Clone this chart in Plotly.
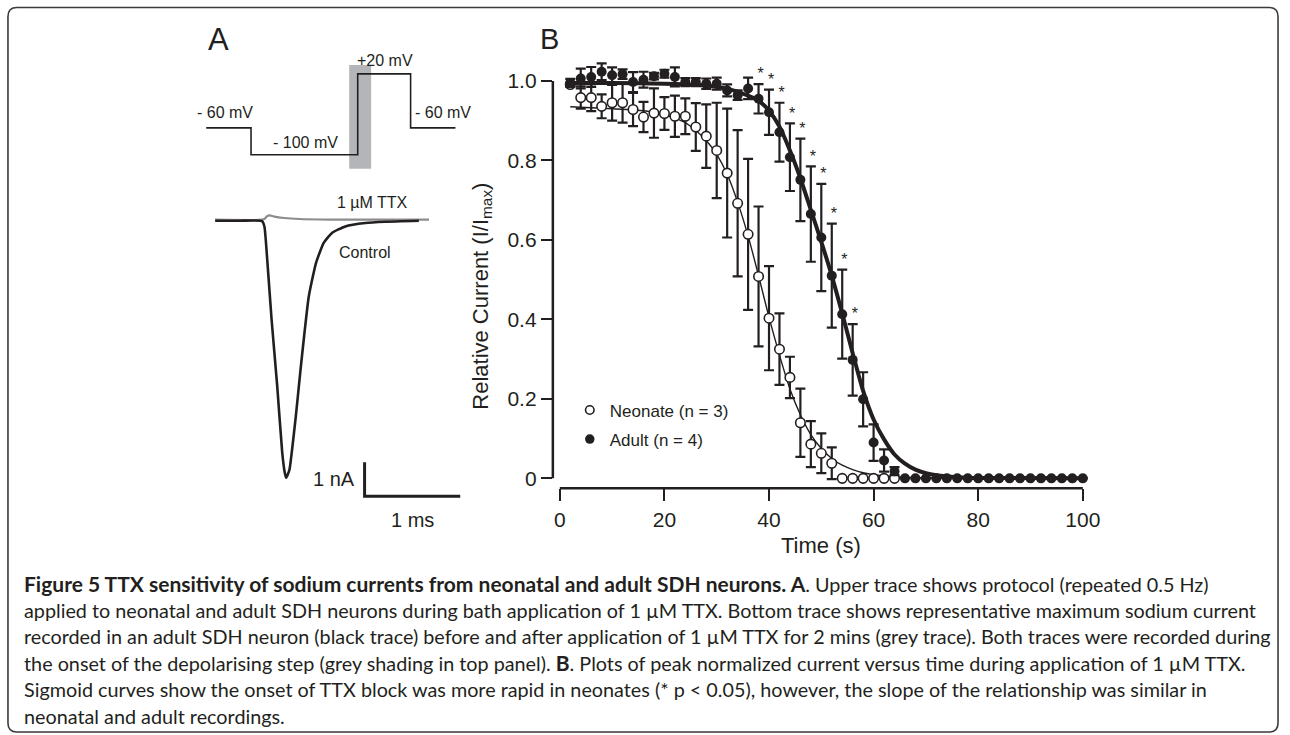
import plotly.graph_objects as go

W, H = 1290, 735

# ---------------- Panel B data (time in s, relative current) ----------------
t_neonate = [2, 4, 6, 8, 10, 12, 14, 16, 18, 20, 22, 24, 26, 28, 30, 32, 34, 36,
             38, 40, 42, 44, 46, 48, 50, 52, 54, 56, 58, 60, 62, 64]
neonate_mean = [0.991, 0.958, 0.958, 0.936, 0.945, 0.945, 0.928, 0.909, 0.919, 0.918,
                0.911, 0.911, 0.884, 0.861, 0.825, 0.768, 0.692, 0.614, 0.508, 0.403,
                0.325, 0.254, 0.140, 0.086, 0.063, 0.038, 0.0, 0.0, 0.0, 0.0, 0.0, 0.0]
neonate_sem = [0.0, 0.028, 0.034, 0.030, 0.045, 0.050, 0.042, 0.038, 0.062, 0.041,
               0.052, 0.045, 0.060, 0.080, 0.120, 0.162, 0.184, 0.190, 0.176, 0.131,
               0.090, 0.052, 0.086, 0.058, 0.050, 0.040, 0.0, 0.0, 0.0, 0.0, 0.0, 0.0]

t_adult = [2, 4, 6, 8, 10, 12, 14, 16, 18, 20, 22, 24, 26, 28, 30, 32, 34, 36, 38, 40,
           42, 44, 46, 48, 50, 52, 54, 56, 58, 60, 62, 64, 66, 68, 70, 72, 74, 76, 78, 80,
           82, 84, 86, 88, 90, 92, 94, 96, 98, 100]
adult_mean = [0.995, 1.006, 1.010, 1.023, 1.014, 1.017, 0.997, 1.003, 1.012, 1.018,
              1.010, 0.997, 0.997, 0.993, 0.993, 0.976, 0.964, 0.981, 0.955, 0.921,
              0.871, 0.808, 0.751, 0.665, 0.606, 0.510, 0.413, 0.298, 0.199, 0.090,
              0.045, 0.018, 0.0, 0.0, 0.0, 0.0, 0.0, 0.0, 0.0, 0.0,
              0.0, 0.0, 0.0, 0.0, 0.0, 0.0, 0.0, 0.0, 0.0, 0.0]
adult_sem = [0.010, 0.025, 0.025, 0.021, 0.020, 0.012, 0.025, 0.020, 0.008, 0.010,
             0.024, 0.010, 0.010, 0.013, 0.015, 0.015, 0.012, 0.027, 0.037, 0.057,
             0.074, 0.085, 0.104, 0.120, 0.135, 0.131, 0.112, 0.090, 0.068, 0.046,
             0.028, 0.010, 0.0, 0.0, 0.0, 0.0, 0.0, 0.0, 0.0, 0.0,
             0.0, 0.0, 0.0, 0.0, 0.0, 0.0, 0.0, 0.0, 0.0, 0.0]

# sigmoid fits
neonate_fit_t = [2, 10, 16, 20, 24, 26, 28, 30, 32, 34, 36, 38, 40, 42, 44, 46, 48, 50,
                 52, 54, 56, 58, 60, 64, 70, 100]
neonate_fit_y = [0.935, 0.930, 0.925, 0.915, 0.895, 0.875, 0.850, 0.815, 0.765, 0.695,
                 0.610, 0.510, 0.405, 0.310, 0.225, 0.160, 0.110, 0.075, 0.050, 0.033,
                 0.022, 0.014, 0.009, 0.004, 0.001, 0.0]
adult_fit_t = [2, 10, 20, 26, 30, 34, 38, 40, 42, 44, 46, 48, 50, 52, 54, 56, 58, 60,
               62, 64, 66, 68, 70, 72, 76, 80, 100]
adult_fit_y = [0.995, 0.995, 0.993, 0.990, 0.985, 0.973, 0.950, 0.925, 0.885, 0.825,
               0.755, 0.675, 0.595, 0.510, 0.415, 0.315, 0.220, 0.148, 0.098, 0.060,
               0.037, 0.022, 0.013, 0.008, 0.003, 0.001, 0.0]

# time points with significant difference (*)
star_t = [38, 40, 42, 44, 46, 48, 50, 52, 54, 56]

x_ticks = [0, 20, 40, 60, 80, 100]
y_ticks = [0, 0.2, 0.4, 0.6, 0.8, 1.0]
y_tick_text = ["0", "0.2", "0.4", "0.6", "0.8", "1.0"]

# ---------------- Panel A data ----------------
# voltage protocol (schematic, ms / mV)
protocol_t = [0, 100, 100, 338, 338, 456, 456, 556]
protocol_mv = [-60, -60, -100, -100, 20, 20, -60, -60]
shade_t = [319, 368]
shade_mv = [-120.7, 33.3]

# current traces (ms, nA)
control_t = [0.00, 0.25, 0.49, 0.515, 0.545, 0.59, 0.649, 0.701, 0.728, 0.743, 0.76,
             0.778, 0.84, 0.893, 0.9375, 0.979, 1.055, 1.135, 1.222, 1.361, 1.57, 1.778, 2.13]
control_na = [-0.03, -0.03, -0.04, -0.20, -1.20, -2.94, -4.90, -6.85, -7.45, -7.60, -7.50,
              -7.35, -5.88, -4.41, -3.24, -2.26, -1.27, -0.685, -0.39, -0.197, -0.097, -0.06, -0.03]
ttx_t = [0.0, 0.49, 0.52, 0.54, 0.57, 0.62, 0.72, 0.88, 1.2, 2.236]
ttx_na = [0.0, 0.0, 0.03, 0.10, 0.13, 0.09, 0.05, 0.02, 0.005, 0.0]

scalebar_origin = (1.5625, -8.147)
scalebar_ms = 1.0
scalebar_na = 1.0

INK = "#231f20"
FONT = "Liberation Sans, Arial, Helvetica, sans-serif"


def px(x):
    return x / W


def py(y):
    return 1 - y / H


fig = go.Figure()

# ---- Panel A: protocol
fig.add_trace(go.Scatter(x=protocol_t, y=protocol_mv, mode="lines",
                         line=dict(color=INK, width=1.6), xaxis="x2", yaxis="y2",
                         showlegend=False, hoverinfo="skip"))

# ---- Panel A: currents
fig.add_trace(go.Scatter(x=ttx_t, y=ttx_na, mode="lines",
                         line=dict(color="#8c8c8c", width=2.2, shape="spline", smoothing=0.6),
                         xaxis="x3", yaxis="y3", showlegend=False, hoverinfo="skip"))
fig.add_trace(go.Scatter(x=control_t, y=control_na, mode="lines",
                         line=dict(color=INK, width=2.6, shape="spline", smoothing=0.5),
                         xaxis="x3", yaxis="y3", showlegend=False, hoverinfo="skip"))
sx, sy = scalebar_origin
fig.add_trace(go.Scatter(x=[sx, sx, sx + scalebar_ms], y=[sy + scalebar_na, sy, sy],
                         mode="lines", line=dict(color=INK, width=3),
                         xaxis="x3", yaxis="y3", showlegend=False, hoverinfo="skip"))

# ---- Panel B
fig.add_trace(go.Scatter(x=adult_fit_t, y=adult_fit_y, mode="lines",
                         line=dict(color=INK, width=4, shape="spline", smoothing=0.6),
                         showlegend=False, hoverinfo="skip"))
fig.add_trace(go.Scatter(x=neonate_fit_t, y=neonate_fit_y, mode="lines",
                         line=dict(color=INK, width=1.4, shape="spline", smoothing=0.6),
                         showlegend=False, hoverinfo="skip"))
fig.add_trace(go.Scatter(x=t_neonate, y=neonate_mean, mode="markers",
                         marker=dict(size=9.5, color="white", line=dict(color=INK, width=1.6)),
                         error_y=dict(type="data", array=neonate_sem, visible=True,
                                      color=INK, thickness=2.2, width=5),
                         showlegend=False))
fig.add_trace(go.Scatter(x=t_adult, y=adult_mean, mode="markers",
                         marker=dict(size=10, color=INK),
                         error_y=dict(type="data", array=adult_sem, visible=True,
                                      color=INK, thickness=2.2, width=5),
                         showlegend=False))

idx = [t_adult.index(t) for t in star_t]
star_y = [adult_mean[i] + adult_sem[i] + 0.022 for i in idx]
fig.add_trace(go.Scatter(x=[t + 0.4 for t in star_t], y=star_y, mode="text",
                         text=["*"] * len(star_t),
                         textfont=dict(family=FONT, size=16, color=INK),
                         showlegend=False, hoverinfo="skip"))

# legend entries
fig.add_trace(go.Scatter(x=[None], y=[None], mode="markers", name="Neonate (n = 3)",
                         legendgroup="n",
                         marker=dict(size=8.5, color="white", line=dict(color=INK, width=1.6))))
fig.add_trace(go.Scatter(x=[None], y=[None], mode="markers", name="Adult (n = 4)",
                         legendgroup="a", marker=dict(size=9.5, color=INK)))

shapes = [
    # grey shading on protocol
    dict(type="rect", xref="x2", yref="y2", x0=shade_t[0], x1=shade_t[1],
         y0=shade_mv[0], y1=shade_mv[1], fillcolor="#b4b5b8", line=dict(width=0),
         layer="below"),
    # panel B axis lines
    dict(type="line", xref="x", yref="y domain", x0=0, x1=100, y0=0, y1=0,
         line=dict(color=INK, width=2.5)),
    dict(type="line", xref="x domain", yref="y", x0=0, x1=0, y0=0, y1=1,
         line=dict(color=INK, width=2.5)),
]

# rounded border
x0b, x1b, ytb, ybb = px(8), px(1283), py(7.5), py(733)
rx, ry = 9 / W, 9 / H
path = (f"M {x0b},{ybb + ry} L {x0b},{ytb - ry} Q {x0b},{ytb} {x0b + rx},{ytb} "
        f"L {x1b - rx},{ytb} Q {x1b},{ytb} {x1b},{ytb - ry} L {x1b},{ybb + ry} "
        f"Q {x1b},{ybb} {x1b - rx},{ybb} L {x0b + rx},{ybb} Q {x0b},{ybb} {x0b},{ybb + ry} Z")
shapes.append(dict(type="path", xref="paper", yref="paper", path=path,
                   line=dict(color="#3a3a3a", width=1.6)))

ann = []


def txt(x, y, s, size=16, xanchor="center", family=FONT, angle=0, color=INK):
    ann.append(dict(x=px(x), y=py(y), xref="paper", yref="paper", text=s, showarrow=False,
                    xanchor=xanchor, yanchor="middle", textangle=angle,
                    font=dict(family=family, size=size, color=color)))


txt(219, 40, "A", 31)
txt(552, 39, "B", 29)
txt(226, 113, "- 60 mV", 16)
txt(307, 143, "- 100 mV", 16)
txt(386, 61, "+20 mV", 16)
txt(445, 113, "- 60 mV", 16)
txt(374, 203, "1 µM TTX", 16)
txt(338, 253, "Control", 16, xanchor="left")
txt(358, 480, "1 nA", 20, xanchor="right")
txt(414, 521, "1 ms", 20)
txt(824.5, 546, "Time (s)", 22)
txt(483, 297, "Relative Current (I/I<sub>max</sub>)", 22, angle=-90)

CAP = "Lato, Open Sans, sans-serif"
BOLD = "<b><span style='font-size:21px'>{}</span></b>"
cap_lines = [
    BOLD.format("Figure 5 TTX sensitivity of sodium currents from neonatal and adult SDH neurons. A")
    + ". Upper trace shows protocol (repeated 0.5 Hz)",
    "applied to neonatal and adult SDH neurons during bath application of 1 µM TTX. Bottom trace shows representative maximum sodium current",
    "recorded in an adult SDH neuron (black trace) before and after application of 1 µM TTX for 2 mins (grey trace). Both traces were recorded during",
    "the onset of the depolarising step (grey shading in top panel). " + BOLD.format("B")
    + ". Plots of peak normalized current versus time during application of 1 µM TTX.",
    "Sigmoid curves show the onset of TTX block was more rapid in neonates (* p &lt; 0.05), however, the slope of the relationship was similar in",
    "neonatal and adult recordings.",
]
for i, line in enumerate(cap_lines):
    txt(22, 584 + i * 26.5, line, 19.8, xanchor="left", family=CAP)

fig.update_layout(
    width=W, height=H, margin=dict(l=0, r=0, t=0, b=0),
    paper_bgcolor="white", plot_bgcolor="rgba(0,0,0,0)",
    font=dict(family=FONT, color=INK),
    xaxis=dict(domain=[px(555), px(1100)], range=[-1.3333, 102.476],
               tickvals=x_ticks, ticks="outside", ticklen=12, tickwidth=2.2,
               tickcolor=INK, showline=False, zeroline=False, showgrid=False,
               tickfont=dict(size=21, family=FONT, color=INK), anchor="y"),
    yaxis=dict(domain=[py(489), py(55)], range=[-0.025126, 1.06533],
               tickvals=y_ticks, ticktext=y_tick_text, ticks="outside", ticklen=11,
               tickwidth=2.2, tickcolor=INK, showline=False, zeroline=False,
               showgrid=False, tickfont=dict(size=21, family=FONT, color=INK), anchor="x"),
    xaxis2=dict(domain=[px(190), px(470)], range=[-37.78, 584.44], visible=False,
                anchor="y2"),
    yaxis2=dict(domain=[py(180), py(40)], range=[-137.04, 70.37], visible=False,
                anchor="x2"),
    xaxis3=dict(domain=[px(190), px(470)], range=[-0.27083, 2.64583], visible=False,
                anchor="y3"),
    yaxis3=dict(domain=[py(530), py(185)], range=[-9.1176, 1.0294], visible=False,
                anchor="x3"),
    shapes=shapes,
    annotations=ann,
    showlegend=True,
    legend=dict(x=px(572), y=py(393), xanchor="left", yanchor="top",
                bgcolor="rgba(0,0,0,0)", font=dict(size=17, family=FONT, color=INK),
                tracegroupgap=4, itemclick=False),
)

fig.write_html("out.html")
